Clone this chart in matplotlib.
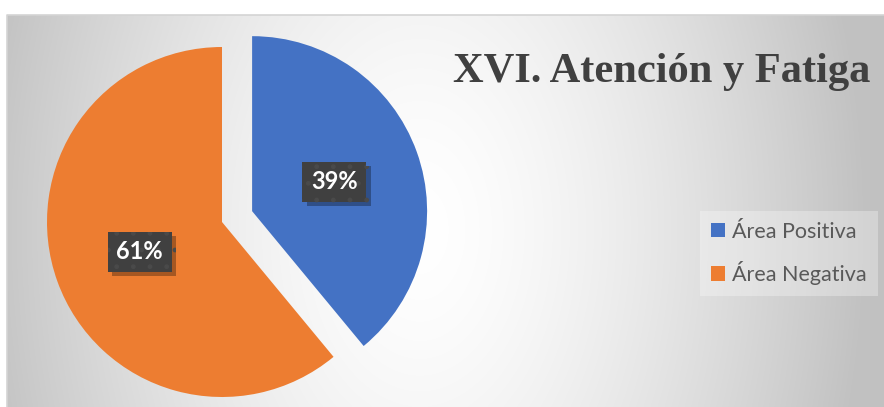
import numpy as np
import matplotlib
matplotlib.use("Agg")
import matplotlib.pyplot as plt
from matplotlib.patches import Rectangle
import matplotlib.patheffects as pe

categories = ["Área Positiva", "Área Negativa"]
values = [39, 61]
colors = ["#4472C4", "#ED7D31"]
title = "XVI. Atención y Fatiga"

W, H = 884, 407
fig = plt.figure(figsize=(W / 100, H / 100), dpi=100)
ax = fig.add_axes([0, 0, 1, 1])
ax.set_xlim(0, W)
ax.set_ylim(0, H)
ax.axis("off")

# chart area background (radial-ish gradient)
x0, x1, yb, yt = 7, W, 0, H - 15
xs = np.linspace(x0, x1, 400)
ys = np.linspace(yt, yb, 200)
X, Y = np.meshgrid(xs, ys)
d = np.sqrt(((X - 420) / 420) ** 2 + (((H - Y) - 230) / 650) ** 2)
v = 1 - 0.22 * np.clip(d, 0, 1.2) ** 1.5
v = np.clip(v, 0.76, 1)
img = np.dstack([v, v, v])
ax.imshow(img, extent=(x0, x1, yb, yt), aspect="auto", zorder=0, interpolation="bilinear")
ax.plot([x0, x0, x1], [yb, yt, yt], color="#d4d4d4", lw=1.2, zorder=1)

# cropped caption at top
fig.text(636 / W, 1 + 7 / H, "Atención y Fatiga", family="Liberation Serif",
         fontsize=22, color="black", ha="right", va="baseline")

wedges, _, autotexts = ax.pie(values, colors=colors, startangle=90, counterclock=False,
                              explode=[32, 0], radius=175, center=(222, H - 222),
                              autopct="%1.0f%%", pctdistance=0.5,
                              wedgeprops=dict(linewidth=0, zorder=2),
                              textprops=dict(color="white", fontsize=17,
                                             fontweight="bold", family="Lato"))
ax.set_xlim(0, W)
ax.set_ylim(0, H)
ax.set_aspect("equal")

bw, bh = 64, 40
for t in autotexts:
    cx, cy = t.get_position()
    t.set_zorder(6)
    t.set_va("center")
    t.set_ha("center")
    r = Rectangle((cx - bw / 2, cy - bh / 2), bw, bh, facecolor="#404040",
                  edgecolor="#4a4a4a", hatch=".", linewidth=0, zorder=5)
    r.set_path_effects([pe.SimplePatchShadow(offset=(3, -3), shadow_rgbFace="black", alpha=0.3),
                        pe.Normal()])
    ax.add_patch(r)

ax.text(453, H - 82, title, family="Liberation Serif", fontweight="bold",
        fontsize=30.6, color="#404040", ha="left", va="baseline", zorder=4)

leg = ax.legend(wedges, categories, loc="upper left", bbox_to_anchor=(700, H - 211),
                bbox_transform=ax.transData, frameon=True, fancybox=False,
                prop=dict(family="Lato", size=15.5), labelcolor="#595959",
                handlelength=0.65, handleheight=0.65, handletextpad=0.35,
                labelspacing=0.9, borderpad=0.5, borderaxespad=0)
fr = leg.get_frame()
fr.set_facecolor("white")
fr.set_alpha(0.3)
fr.set_linewidth(0)

fig.savefig("out.png", dpi=100)
